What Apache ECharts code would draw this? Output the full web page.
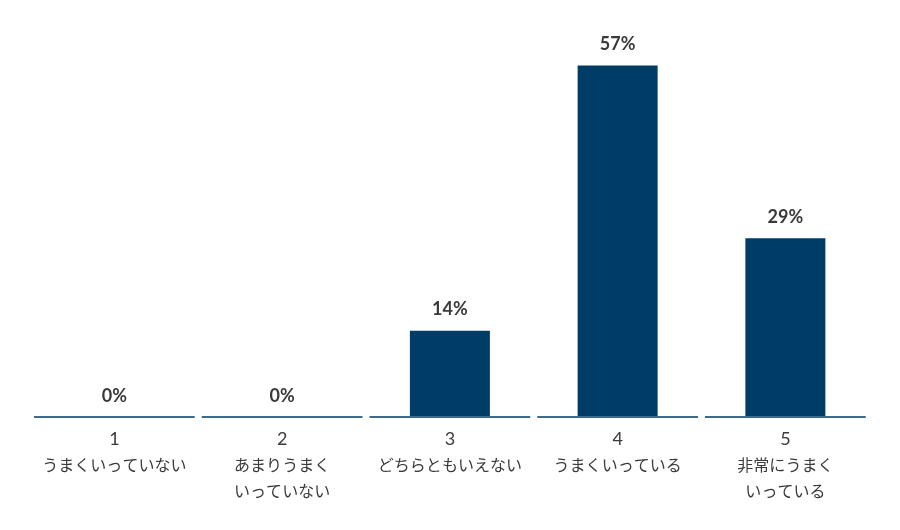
<!DOCTYPE html>
<html>
<head>
<meta charset="utf-8">
<script src="https://cdn.jsdelivr.net/npm/echarts@6/dist/echarts.min.js"></script>
<style>
  html, body { margin: 0; padding: 0; background: #fff; }
  #chart { width: 900px; height: 530px; }
</style>
</head>
<body>
<div id="chart"></div>
<script>
var dom = document.getElementById('chart');
var myChart = echarts.init(dom, null, { renderer: 'canvas' });

const scores = ['1', '2', '3', '4', '5'];
const answers = ['うまくいっていない', 'あまりうまく\nいっていない', 'どちらともいえない', 'うまくいっている', '非常にうまく\nいっている'];
const percents = [0, 0, 14, 57, 29];

const barColor = '#003d66';
const lineColor = '#3f6b8a';
const textColor = '#3a3a3a';

const categories = scores.map(function (s, i) {
  return s + '\n' + answers[i];
});

var option = {
  backgroundColor: '#FFFFFF',
  animation: false,
  grid: {
    left: 30.5,
    right: 30.75,
    top: 47,
    bottom: 113
  },
  xAxis: {
    type: 'category',
    data: categories,
    axisLine: { show: false },
    axisTick: { show: false },
    axisLabel: {
      margin: 9,
      interval: 0,
      color: textColor,
      formatter: function (value) {
        var lines = value.split('\n');
        var out = '{n|' + lines[0] + '}';
        for (var k = 1; k < lines.length; k++) {
          out += '\n{t|' + lines[k] + '}';
        }
        return out;
      },
      rich: {
        n: {
          fontSize: 18,
          lineHeight: 26,
          color: textColor,
          fontFamily: 'Lato, sans-serif'
        },
        t: {
          fontSize: 16,
          lineHeight: 26,
          color: textColor,
          fontFamily: '"Noto Sans CJK JP", sans-serif'
        }
      }
    }
  },
  yAxis: {
    type: 'value',
    min: 0,
    max: 60,
    show: false,
    splitLine: { show: false }
  },
  series: [
    {
      type: 'bar',
      data: percents,
      barWidth: 80,
      z: 2,
      itemStyle: { color: barColor },
      label: {
        show: true,
        position: 'top',
        distance: 12,
        formatter: '{c}%',
        fontSize: 18,
        fontWeight: 'bold',
        color: textColor,
        fontFamily: 'Lato, sans-serif'
      }
    },
    {
      // segmented baseline under each category
      type: 'custom',
      z: 3,
      silent: true,
      data: percents.map(function (v, i) { return [i, 0]; }),
      renderItem: function (params, api) {
        var p = api.coord([api.value(0), 0]);
        var bw = api.size([1, 0])[0];
        var gap = 3.5;
        return {
          type: 'line',
          shape: {
            x1: p[0] - bw / 2 + gap,
            y1: p[1],
            x2: p[0] + bw / 2 - gap,
            y2: p[1]
          },
          style: { stroke: lineColor, lineWidth: 2 }
        };
      }
    }
  ]
};

myChart.setOption(option);
window.addEventListener('resize', myChart.resize);
</script>
</body>
</html>
